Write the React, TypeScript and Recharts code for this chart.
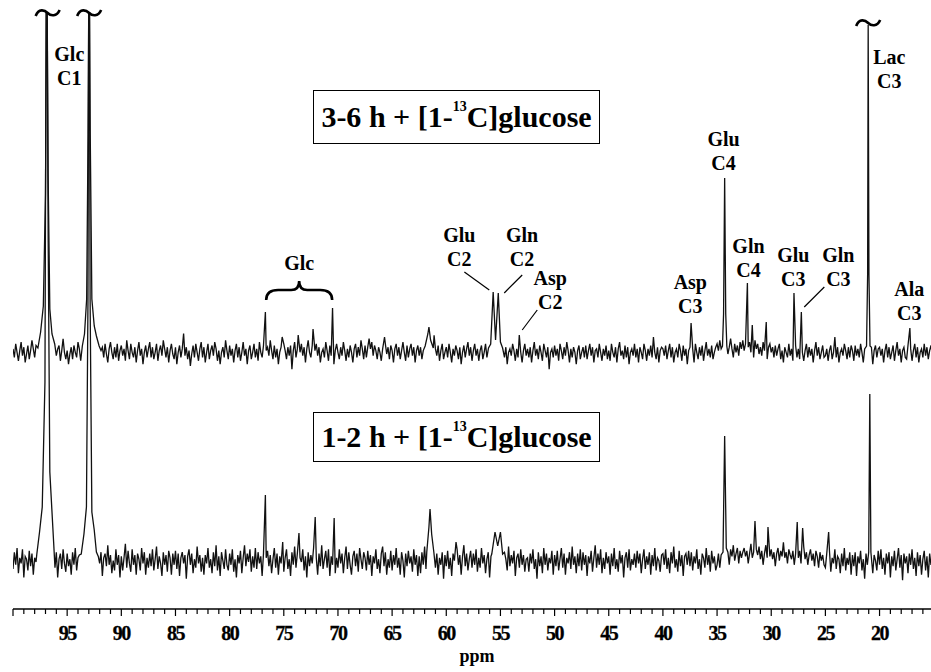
import { LineChart, Line, XAxis, YAxis, ReferenceDot, ReferenceLine } from "recharts";

// 13C NMR spectra, ppm axis runs right-to-left.
// Baseline noise is sampled every 0.125 ppm from 100 ppm downwards (20 values per 2.5 ppm).
const PPM_START = 100;
const PPM_STEP = 0.125;

// 3-6 h trace, baseline noise (relative units, see NOISE_GAIN)
const TOP_NOISE = [
  3, -2, 6, 1, -4, 2, 7, -1, 4, -5, 0, 5, -3, 2, 8, 3, -2, 5, -6, 1,
  4, -3, 2, 7, -1, 3, -5, 1, 6, -2, 4, -7, -1, 3, 5, -4, 2, 9, 1, -3,
  2, -6, 0, 4, -3, 5, 1, -2, 7, 3, -4, 1, 6, -2, 3, -5, -1, 4, 11, 2,
  -3, 5, -1, 3, -6, 2, 4, -2, 6, 0, -5, 3, 7, 1, -3, 4, -2, 6, -4, 2,
  5, -1, 3, -4, 8, 2, -3, 6, 1, -2, 4, -5, 2, 7, -1, 3, -6, 1, 5, -2,
  3, 7, -2, 4, -3, 1, 6, -4, 2, 5, -1, 8, 3, -2, 4, -5, 2, 6, 0, -3,
  4, -6, 1, 5, -2, 3, 12, -1, 4, -3, 2, -7, 0, 5, -2, 6, 1, -4, 3, 7,
  -2, 4, -5, 1, 6, -3, 2, 5, -1, 7, 3, -4, 2, -6, 1, 4, -2, 8, 2, -3,
  5, -1, 3, -5, 2, 6, -2, 4, -4, 1, 7, -1, 3, -6, 2, 5, -3, 1, 6, -2,
  3, -4, 7, 1, -2, 5, -5, 2, 4, -1, 8, 2, -3, 5, -2, 3, -6, 1, 4, -1,
  6, 2, -3, 4, -1, 5, -9, 2, 7, -2, 3, -4, 1, 6, -1, 4, -5, 3, 8, 1,
  -2, 5, -3, 2, 6, -1, 4, -5, 1, 3, -2, 7, 2, -4, 5, -1, 3, -6, 2, 6,
  1, -3, 4, -1, 7, 2, -4, 3, -2, 5, 1, -5, 3, 6, -2, 4, -1, 8, 3, -3,
  5, -2, 4, 9, 3, 7, -1, 5, 2, -3, 4, 1, -4, 3, -2, 6, 0, 4, -3, 5,
  2, -5, 3, 6, -1, 4, -3, 2, 7, 1, -4, 5, -2, 3, 6, -1, 4, -5, 2, 5,
  -1, 4, -3, 2, 6, -2, 5, -4, 1, 3, -2, 11, 3, -1, 5, -4, 2, 6, -3, 1,
  4, -2, 6, 1, -5, 3, -1, 5, 2, -3, 4, -6, 1, 5, -2, 3, 7, -1, 4, -4,
  2, 6, -1, 3, -4, 2, 5, -3, 1, 6, -2, 4, -5, 2, 7, 1, -3, 4, -1, 5,
  -3, 2, 5, -2, 4, -6, 1, 3, -1, 6, 2, -4, 3, -2, 5, 1, -5, 2, 6, -1,
  3, -2, 4, -5, 2, 7, -1, 3, -3, 5, 1, -4, 6, 2, -2, 4, -9, 1, 3, -2,
  5, -1, 3, -4, 6, 2, -3, 4, -1, 7, 2, -5, 3, -2, 4, 1, -6, 2, 5, -3,
  1, 4, -2, 5, -3, 2, 6, -1, 4, -5, 2, 3, -2, 6, 1, -4, 3, -1, 5, -3,
  2, -4, 6, 1, -2, 4, -5, 3, 7, -1, 2, -3, 5, -2, 4, -6, 1, 3, -1, 6,
  -2, 3, -5, 4, 1, -3, 6, 2, -4, 3, -1, 5, -2, 10, 1, -3, 4, -5, 2, 4,
  3, -1, 5, -3, 2, 6, -2, 4, -5, 1, 3, -2, 6, 2, -4, 5, -1, 3, -6, 2,
  4, -2, 3, -5, 6, 1, -3, 4, -1, 5, -4, 2, 7, -1, 3, -2, 5, -3, 1, 4,
  6, 2, 8, 3, -1, 5, 2, 7, 0, 4, 9, 3, -2, 6, 1, 5, -1, 7, 3, 8,
  2, 6, -1, 4, 7, 1, 5, -2, 8, 3, 6, 0, 4, -1, 7, 2, 5, -3, 4, 6,
  1, 4, -2, 5, -1, 3, 6, -3, 2, -5, 4, 1, -2, 6, -1, 3, -4, 2, 5, -2,
  3, -3, 5, 1, -4, 2, 6, -2, 4, -1, 3, -5, 2, 7, -1, 4, -3, 1, 5, -2,
  -1, 3, -4, 2, 5, -3, 1, 10, -2, 4, -5, 1, 3, -1, 6, 2, -3, 4, -2, 5,
  2, -4, 5, -1, 3, -2, 6, 1, -5, 3, 2, -3, 5, -1, 4, -6, 2, 5, -2, 3,
  4, -1, 3, -5, 2, 6, -2, 4, -3, 1, 5, -4, 2, 7, -1, 3, -5, 2, 4, -2,
  -3, 5, -1, 3, -4, 2, 6, -2, 4, -5, 1, 3, -2, 6, -1, 4, -3, 2, 5, -1,
];

// 1-2 h trace, baseline noise
const BOTTOM_NOISE = [
  -5, 7, -2, 10, -8, 3, -1, 9, -11, 4, 2, -6, 8, -3, 6, -9, 3, 0, 8, -4,
  5, -8, 6, -2, 11, -5, 1, -9, 4, -3, 10, -4, 7, -11, 2, 6, -5, 9, -1, -7,
  6, -3, 2, -9, 7, -2, 10, -6, 3, 5, -12, 4, -1, 8, -7, 2, 11, -4, 3, -8,
  -2, 9, -5, 4, -1, 7, -10, 3, 6, -3, 12, -2, 5, -8, 1, -6, 9, -2, 5, -11,
  4, -6, 3, 13, -4, 8, -1, -7, 9, -2, 5, -9, 6, 2, -6, 10, -1, 7, -9, 3,
  -4, 6, -3, 9, -6, 2, 11, -5, 4, -1, -10, 7, -2, 5, -7, 8, 3, -9, 6, -2,
  8, -5, 6, -10, 3, 7, -1, 5, -12, 4, 9, -2, 6, -8, 2, -4, 11, -1, 5, -7,
  3, -9, 5, -1, 10, -4, 2, -8, 7, -3, 12, -6, 4, -10, 7, 1, -5, 9, -2, -6,
  6, -2, 9, -7, 2, -11, 5, -1, 8, -8, 3, 12, -3, 6, 0, 9, -7, 4, -4, 10,
  -5, 7, -1, 4, -10, 6, -15, 3, 8, -3, 5, -8, 2, 10, -4, 6, -9, 4, -1, 8,
  -7, 3, 9, -5, 2, -10, 7, -2, 11, -4, 6, -8, 3, 0, 9, -6, 4, -11, 7, -3,
  5, -1, 10, -6, 3, -9, 6, -3, 12, -5, 2, 8, -4, 9, -10, 4, -2, 7, -8, 3,
  -4, 9, -1, 6, -8, 3, 11, -5, 7, -2, -9, 4, 8, -3, 6, -7, 10, 2, -5, 7,
  3, -6, 8, -2, 5, -10, 4, -1, 9, -5, 2, -8, 6, 11, -3, 7, -9, 2, -4, 8,
  -6, 5, -2, 10, -4, 3, -9, 7, 1, -11, 6, -3, 8, -1, 4, -7, 9, -2, 5, -10,
  4, -8, 7, -2, 11, -5, 3, -1, 8, -6, 2, 10, -4, 6, -9, 3, -2, 7, -12, 5,
  -3, 8, -5, 3, -10, 6, 1, -7, 9, -2, 5, -9, 4, 12, -3, 6, -6, 2, 8, -4,
  6, -2, 9, -7, 3, -4, 10, -1, 5, -8, 2, 7, -11, 4, -2, 8, -5, 3, -9, 6,
  -5, 4, -9, 7, 2, -6, 11, -3, 5, -1, 8, -10, 3, 6, -4, 9, -2, 5, -7, 2,
  3, -7, 6, -1, 9, -5, 2, -12, 7, -3, 4, -8, 10, -2, 6, -6, 3, -1, 8, -9,
  5, -3, 8, -6, 2, 10, -4, 6, -9, 3, -1, 7, -5, 11, -2, 4, -8, 6, -3, 9,
  -6, 7, -2, 5, -10, 4, -1, 8, -7, 3, 12, -4, 6, -2, 9, -8, 3, -5, 7, -1,
  4, -9, 6, -3, 10, -5, 2, -7, 8, -1, 5, -11, 3, 7, -4, 9, -6, 2, -2, 6,
  -4, 8, -1, 6, -8, 2, 9, -5, 4, -2, 7, -9, 5, -3, 10, -6, 3, 1, -7, 5,
  6, -2, 9, -5, 3, -8, 7, -1, 11, -4, 2, -7, 8, -3, 5, -10, 4, 6, -2, 8,
  -3, 7, -6, 4, -1, 9, -5, 2, -9, 6, 3, -4, 10, -2, 5, -7, 8, -1, 4, -6,
  -2, 6, -4, 5, -1, 8, 4, 7, 7, -2, 9, 4, 12, 1, 6, 10, -1, 8, 3, 7,
  10, 4, 8, -1, 6, 13, 3, 7, 0, 9, 5, 11, 2, 8, -2, 6, 12, 3, 7, 4,
  9, 2, 7, -3, 6, 10, 1, 8, 4, 14, 3, 7, -1, 9, 5, 2, 8, -2, 6, 10,
  3, 8, -1, 6, 11, 2, 7, -2, 5, 9, 1, 6, -3, 8, 4, -4, 7, 1, 5, -2,
  -4, 6, -2, 8, -7, 3, -1, 9, -5, 4, 2, -8, 6, -3, 10, -6, 3, -2, 7, -9,
  5, -3, 7, -10, 4, -1, 8, -6, 2, -12, 6, -2, 9, -4, 3, -8, 5, 1, -6, 8,
  -2, 9, -5, 3, -9, 6, -1, 7, -11, 4, -3, 8, -6, 2, 10, -4, 5, -13, 6, -1,
  4, -8, 6, -2, 9, -5, 3, -10, 7, -3, 5, -9, 2, 8, -6, 4, -11, 6, -2, 3,
];

// noise arrays are in relative units; gain brings them to the chart's intensity scale
const TOP_NOISE_GAIN = 1.7;
const BOTTOM_NOISE_GAIN = 1.4;

type Pt = [number, number];

// peaks as [ppm, height above baseline]
const TOP_PEAKS: Pt[][] = [
  [[97.7, 6], [97.45, 22], [97.2, 48], [97.0, 160], [96.88, 420], [96.76, 180], [96.6, 45], [96.4, 20], [96.15, 10]],
  [[93.6, 8], [93.4, 20], [93.2, 55], [93.07, 220], [92.97, 420], [92.87, 220], [92.72, 55], [92.5, 28], [92.3, 18], [92.05, 8]],
  [[76.7, 42]],
  [[75.15, 17]],
  [[73.67, 19]],
  [[72.3, 25]],
  [[70.5, 46]],
  [[65.7, 17]],
  [[61.95, 8], [61.7, 20], [61.6, 27], [61.45, 14], [61.2, 6]],
  [[56.1, 6], [55.9, 10], [55.67, 62], [55.45, 14], [55.2, 61], [55.0, 12], [54.8, 6]],
  [[53.26, 19]],
  [[37.4, 31]],
  [[34.5, 8], [34.4, 40], [34.3, 176], [34.2, 40], [34.1, 8]],
  [[32.2, 71]],
  [[31.75, 29]],
  [[30.46, 32]],
  [[27.9, 61]],
  [[27.22, 42]],
  [[21.2, 8], [21.1, 80], [21.05, 329], [20.98, 80], [20.88, 8]],
  [[17.2, 26]],
];

const BOTTOM_PEAKS: Pt[][] = [
  [[97.8, 8], [97.55, 30], [97.3, 55], [97.05, 180], [96.9, 700], [96.75, 320], [96.6, 90], [96.45, 60], [96.25, 20]],
  [[93.7, 8], [93.45, 28], [93.22, 55], [93.08, 260], [92.98, 700], [92.88, 260], [92.72, 50], [92.5, 32], [92.3, 10]],
  [[76.7, 67]],
  [[75.1, 20]],
  [[73.6, 29]],
  [[72.1, 45]],
  [[70.35, 44]],
  [[61.8, 10], [61.6, 35], [61.5, 53], [61.35, 28], [61.15, 10]],
  [[59.1, 20]],
  [[55.8, 8], [55.5, 30], [55.25, 16], [55.0, 30], [54.8, 8]],
  [[34.45, 10], [34.3, 126], [34.15, 14]],
  [[31.5, 41]],
  [[30.3, 35]],
  [[27.6, 40]],
  [[27.1, 34]],
  [[24.7, 30]],
  [[21.0, 10], [20.9, 168], [20.8, 10]],
];

const MAJOR_TICKS = [95, 90, 85, 80, 75, 70, 65, 60, 55, 50, 45, 40, 35, 30, 25, 20];
const MINOR_TICKS = Array.from({ length: 85 }, (_, i) => 100 - i);

const TOP_OFFSET = 208; // vertical offset of the 3-6 h trace

// annotation positions (ppm, intensity units of the chart)
const LABELS = [
  { lines: ["Glc", "C1"], ppm: 94.8, y: 508 },
  { lines: ["Lac", "C3"], ppm: 19.1, y: 505 },
  { lines: ["Glu", "C4"], ppm: 34.4, y: 423 },
  { lines: ["Gln", "C4"], ppm: 32.1, y: 316 },
  { lines: ["Glu", "C3"], ppm: 27.96, y: 307 },
  { lines: ["Gln", "C3"], ppm: 23.8, y: 307 },
  { lines: ["Asp", "C3"], ppm: 37.47, y: 280 },
  { lines: ["Ala", "C3"], ppm: 17.25, y: 273 },
  { lines: ["Glu", "C2"], ppm: 58.8, y: 327 },
  { lines: ["Gln", "C2"], ppm: 53.0, y: 327 },
  { lines: ["Asp", "C2"], ppm: 50.4, y: 284 },
  { lines: ["Glc"], ppm: 73.58, y: 299 },
];

const LEADERS: Pt[][] = [
  [[58.33, 290], [56.03, 272]],
  [[52.99, 287], [54.65, 269]],
  [[51.6, 252], [52.99, 232]],
  [[25.1, 275], [26.95, 255]],
];

const TILDES = [
  { ppm: 96.8, y: 549 },
  { ppm: 92.97, y: 549 },
  { ppm: 21.05, y: 539 },
];

const FONT = '"Liberation Serif", "Times New Roman", serif';

function buildTrace(noise: number[], gain: number, peaks: Pt[][], offset: number) {
  const spans = peaks.map((g) => {
    const xs = g.map((p) => p[0]);
    return [Math.min(...xs) - 0.07, Math.max(...xs) + 0.07];
  });
  const rows: { ppm: number; v: number }[] = [];
  noise.forEach((n, i) => {
    const ppm = PPM_START - i * PPM_STEP;
    if (spans.some(([lo, hi]) => ppm >= lo && ppm <= hi)) return;
    rows.push({ ppm, v: n * gain + offset });
  });
  peaks.forEach((g) => g.forEach(([ppm, h]) => rows.push({ ppm, v: h + offset })));
  return rows.sort((a, b) => b.ppm - a.ppm);
}

const topData = buildTrace(TOP_NOISE, TOP_NOISE_GAIN, TOP_PEAKS, TOP_OFFSET);
const bottomData = buildTrace(BOTTOM_NOISE, BOTTOM_NOISE_GAIN, BOTTOM_PEAKS, 0);

const AxisTick = (props: any) => {
  const { x, y, payload } = props;
  const v = payload.value as number;
  const major = v % 5 === 0;
  return (
    <g>
      <line x1={x} y1={y} x2={x} y2={y + (major ? 7 : 5)} stroke="#000" strokeWidth={1.2} />
      {MAJOR_TICKS.includes(v) && (
        <text
          x={x}
          y={y + 31}
          textAnchor="middle"
          fontFamily={FONT}
          fontWeight={700}
          fontSize={20}
          letterSpacing={-1.5}
          fill="#000"
          stroke="#000"
          strokeWidth={0.3}
        >
          {v}
        </text>
      )}
    </g>
  );
};

const boxStyle: React.CSSProperties = {
  position: "absolute",
  left: 313,
  width: 285,
  border: "1.5px solid #000",
  display: "flex",
  alignItems: "center",
  justifyContent: "center",
  fontFamily: FONT,
  fontWeight: 700,
  fontSize: 30,
  color: "#000",
  background: "#fff",
  whiteSpace: "nowrap",
};

const Title = ({ hours }: { hours: string }) => (
  <span>
    {hours} h + [1-<sup style={{ fontSize: 14, verticalAlign: "top", lineHeight: 1 }}>13</sup>C]glucose
  </span>
);

export default function App() {
  return (
    <div style={{ position: "absolute", left: 0, top: 0, width: 931, height: 672, background: "#fff" }}>
      <LineChart width={931} height={672} margin={{ top: 12, right: 0, bottom: 0, left: 13 }}>
        <XAxis
          type="number"
          dataKey="ppm"
          domain={[15.25, 100]}
          reversed
          allowDataOverflow
          ticks={MINOR_TICKS}
          interval={0}
          tickSize={0}
          tickMargin={0}
          tickLine={false}
          axisLine={{ stroke: "#000", strokeWidth: 1.5 }}
          tick={<AxisTick />}
          height={63}
          label={{
            position: "insideBottom",
            content: (p: any) => {
              const vb = p.viewBox;
              return (
                <text
                  x={vb.x + vb.width / 2 + 5}
                  y={vb.y + vb.height - 10}
                  textAnchor="middle"
                  fontFamily={FONT}
                  fontWeight={700}
                  fontSize={18}
                  fill="#000"
                >
                  ppm
                </text>
              );
            },
          }}
        />
        <YAxis hide type="number" domain={[-47, 550]} allowDataOverflow />
        <Line
          data={bottomData}
          dataKey="v"
          type="linear"
          stroke="#111"
          strokeWidth={1.3}
          dot={false}
          isAnimationActive={false}
        />
        <Line
          data={topData}
          dataKey="v"
          type="linear"
          stroke="#111"
          strokeWidth={1.3}
          dot={false}
          isAnimationActive={false}
        />
        {LEADERS.map((seg, i) => (
          <ReferenceLine
            key={`ld${i}`}
            segment={[
              { x: seg[0][0], y: seg[0][1] },
              { x: seg[1][0], y: seg[1][1] },
            ]}
            stroke="#000"
            strokeWidth={1.2}
          />
        ))}
        {LABELS.map((l, i) => (
          <ReferenceDot
            key={`lb${i}`}
            x={l.ppm}
            y={l.y}
            r={0}
            shape={(p: any) => (
              <g>
                {l.lines.map((t, j) => (
                  <text
                    key={t + j}
                    x={p.cx}
                    y={p.cy + j * 24}
                    textAnchor="middle"
                    dominantBaseline="central"
                    fontFamily={FONT}
                    fontWeight={700}
                    fontSize={20}
                    fill="#000"
                  >
                    {t}
                  </text>
                ))}
              </g>
            )}
          />
        ))}
        {TILDES.map((t, i) => (
          <ReferenceDot
            key={`tl${i}`}
            x={t.ppm}
            y={t.y}
            r={0}
            shape={(p: any) => (
              <path
                d={`M ${p.cx - 12} ${p.cy + 3} C ${p.cx - 9} ${p.cy - 5}, ${p.cx - 3} ${p.cy - 3}, ${p.cx} ${p.cy} S ${p.cx + 9} ${p.cy + 4}, ${p.cx + 12} ${p.cy - 3}`}
                fill="none"
                stroke="#000"
                strokeWidth={2.6}
              />
            )}
          />
        ))}
        <ReferenceDot
          x={73.58}
          y={281}
          r={0}
          shape={(p: any) => {
            const { cx, cy } = p;
            return (
              <path
                d={`M ${cx - 33} ${cy + 19} C ${cx - 33} ${cy + 12}, ${cx - 29} ${cy + 9}, ${cx - 21} ${cy + 9} L ${cx - 8} ${cy + 9} C ${cx - 3} ${cy + 9}, ${cx} ${cy + 6}, ${cx} ${cy} C ${cx} ${cy + 6}, ${cx + 3} ${cy + 9}, ${cx + 8} ${cy + 9} L ${cx + 21} ${cy + 9} C ${cx + 29} ${cy + 9}, ${cx + 33} ${cy + 12}, ${cx + 33} ${cy + 19}`}
                fill="none"
                stroke="#000"
                strokeWidth={2.6}
              />
            );
          }}
        />
      </LineChart>
      <div style={{ ...boxStyle, top: 90, height: 52 }}>
        <Title hours="3-6" />
      </div>
      <div style={{ ...boxStyle, top: 412, height: 48 }}>
        <Title hours="1-2" />
      </div>
    </div>
  );
}
